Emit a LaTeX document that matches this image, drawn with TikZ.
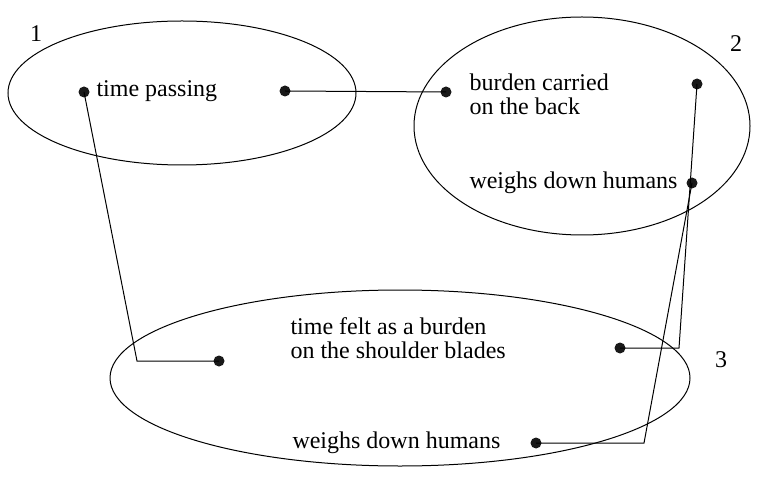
\documentclass[tikz,border=0pt]{standalone}
\usepackage{fontspec}
\setmainfont{Liberation Serif}
\usepackage{tikz}

\tikzset{
  dot/.style={circle,fill=black!90,inner sep=0pt,minimum size=5.5pt},
  txt/.style={anchor=west,inner sep=0pt,align=left,font=\fontsize{12}{12}\selectfont},
  nbr/.style={inner sep=0pt,font=\fontsize{12}{12}\selectfont}
}

\begin{document}
\begin{tikzpicture}[x=0.5pt,y=-0.5pt,line width=0.5pt]
  \useasboundingbox (0,0) rectangle (769,491);
  %\draw[help lines] (0,0) grid (769,491);

  % the three fields
  \draw (182,93) ellipse [x radius=87pt,y radius=36pt];
  \draw (582,126) ellipse [x radius=84pt,y radius=54.5pt];
  \draw (400,378) ellipse [x radius=145pt,y radius=44pt];
  \node[nbr] (n1) at (36,34) {1};
  \node[nbr] (n2) at (736,44) {2};
  \node[nbr] (n3) at (721,360) {3};

  % texts
  \node[txt] (tp) at (96,91) {time passing};
  \node[txt] (bc) at (469,94) {burden carried\\on the back};
  \node[txt] (wh) at (469,183) {weighs down humans};
  \node[txt] (tf) at (290,338) {time felt as a burden\\on the shoulder blades};
  \node[txt] (wb) at (292,443) {weighs down humans};

  % dots
  \node[dot] (d1) at (84,92) {};
  \node[dot] (d2) at (285,91) {};
  \node[dot] (d3) at (446,92) {};
  \node[dot] (d4) at (697,84) {};
  \node[dot] (d5) at (692,183) {};
  \node[dot] (d6) at (219,361) {};
  \node[dot] (d7) at (620,348) {};
  \node[dot] (d8) at (536,443) {};

  % corners
  \coordinate (c1) at (137,361);
  \coordinate (c2) at (679,348);
  \coordinate (c3) at (644,443);

  % links
  \draw (d2.center) -- (d3.center);
  \draw (d1.center) -- (c1) -- (d6.center);
  \draw (d4.center) -- (c2) -- (d7.center);
  \draw (d5.center) -- (c3) -- (d8.center);
\end{tikzpicture}
\end{document}
